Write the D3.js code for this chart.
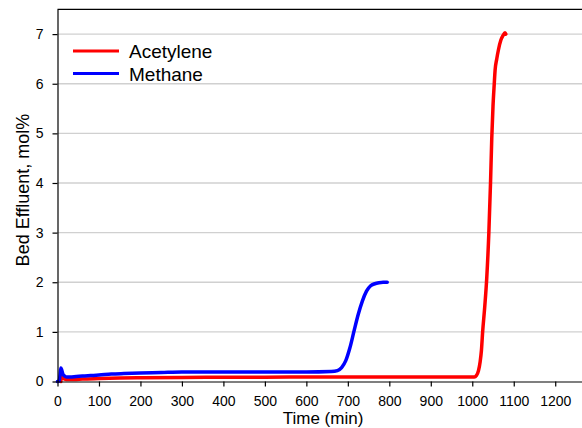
<!DOCTYPE html>
<html>
<head>
<meta charset="utf-8">
<script src="https://cdn.jsdelivr.net/npm/d3@7"></script>
<style>
  body { margin: 0; background: #fff; }
  svg { display: block; font-family: "Liberation Sans", Arial, sans-serif; }
</style>
</head>
<body>
<svg id="chart" width="582" height="428"></svg>
<script>
// Axis ticks
const xTicks = [0, 100, 200, 300, 400, 500, 600, 700, 800, 900, 1000, 1100, 1200];
const yTicks = [0, 1, 2, 3, 4, 5, 6, 7];

// Series names (legend order)
const seriesNames = ["Acetylene", "Methane"];

// Acetylene breakthrough: time (min) and bed effluent (mol%)
const acetyleneTime = [8, 10, 13, 17, 25, 40, 60, 100, 150, 200, 300, 400, 500, 600, 700, 800, 900, 1000,
  1005, 1010, 1015, 1019, 1022, 1025, 1030, 1035, 1040, 1044, 1047, 1050, 1053, 1055, 1059, 1063, 1069, 1074, 1079, 1081];
const acetyleneMol = [0.0, 0.12, 0.08, 0.05, 0.04, 0.04, 0.05, 0.06, 0.07, 0.075, 0.08, 0.085, 0.085, 0.09, 0.09, 0.09, 0.09, 0.09,
  0.09, 0.12, 0.22, 0.4, 0.62, 1.0, 1.5, 2.1, 3.0, 4.0, 4.9, 5.55, 6.0, 6.27, 6.5, 6.68, 6.88, 6.97, 7.03, 7.0];

// Methane breakthrough: time (min) and bed effluent (mol%)
const methaneTime = [0, 4, 6, 8, 10, 13, 17, 22, 30, 45, 60, 80, 100, 130, 160, 200, 250, 300, 400, 500, 600,
  660, 675, 685, 695, 705, 715, 725, 735, 745, 755, 765, 775, 785, 795];
const methaneMol = [0.0, 0.01, 0.12, 0.27, 0.24, 0.15, 0.11, 0.09, 0.09, 0.10, 0.11, 0.12, 0.13, 0.15, 0.16, 0.17, 0.18, 0.19, 0.19, 0.19, 0.19,
  0.2, 0.22, 0.28, 0.42, 0.68, 1.02, 1.35, 1.62, 1.82, 1.93, 1.97, 1.99, 2.0, 2.0];

const colors = { Acetylene: "#ff0000", Methane: "#0000ff" };

const svg = d3.select("#chart");

const x = d3.scaleLinear().domain([0, 1300]).range([57.5, 596.7]);
const y = d3.scaleLinear().domain([0, 7.5]).range([381.5, 9.3]);

// Horizontal gridlines
svg.append("g")
  .selectAll("line")
  .data(yTicks.filter(d => d > 0))
  .join("line")
  .attr("x1", x(0)).attr("x2", 600)
  .attr("y1", d => y(d)).attr("y2", d => y(d))
  .attr("stroke", "#d0d0d0")
  .attr("stroke-width", 1.4);

// Top frame line
svg.append("line")
  .attr("x1", x(0)).attr("x2", 600)
  .attr("y1", y(7.5)).attr("y2", y(7.5))
  .attr("stroke", "#000").attr("stroke-width", 1.2);

// Series lines
const line = d3.line()
  .x(d => x(d[0]))
  .y(d => y(d[1]))
  .curve(d3.curveMonotoneX);

const series = [
  { name: "Acetylene", pts: d3.zip(acetyleneTime, acetyleneMol) },
  { name: "Methane", pts: d3.zip(methaneTime, methaneMol) }
];

svg.append("g")
  .selectAll("path")
  .data(series)
  .join("path")
  .attr("d", d => line(d.pts))
  .attr("fill", "none")
  .attr("stroke", d => colors[d.name])
  .attr("stroke-width", 3.5)
  .attr("stroke-linejoin", "round")
  .attr("stroke-linecap", "round");

// Axes
const xAxis = svg.append("g")
  .attr("transform", `translate(0,${y(0)})`)
  .call(d3.axisBottom(x).tickValues(xTicks).tickSize(5).tickSizeOuter(0).tickPadding(10).tickFormat(d3.format("d")));

const yAxis = svg.append("g")
  .attr("transform", `translate(${x(0)},0)`)
  .call(d3.axisLeft(y).tickValues(yTicks).tickSize(5).tickSizeOuter(0).tickPadding(9).tickFormat(d3.format("d")));

[xAxis, yAxis].forEach(g => {
  g.select(".domain").attr("stroke", "#000").attr("stroke-width", 1.2);
  g.selectAll(".tick line").attr("stroke", "#000").attr("stroke-width", 1.2);
  g.selectAll(".tick text")
    .attr("fill", "#000")
    .style("font-size", "14px")
    .style("font-family", '"Liberation Sans", Arial, sans-serif');
});

// Axis titles
svg.append("text")
  .attr("x", 323).attr("y", 423.5)
  .attr("text-anchor", "middle")
  .style("font-size", "17px")
  .text("Time (min)");

svg.append("text")
  .attr("transform", "translate(29,190) rotate(-90)")
  .attr("text-anchor", "middle")
  .style("font-size", "18px")
  .text("Bed Effluent, mol%");

// Legend
const legend = svg.append("g")
  .selectAll("g")
  .data(seriesNames)
  .join("g")
  .attr("transform", (d, i) => `translate(0,${51 + i * 22.5})`);

legend.append("line")
  .attr("x1", 73).attr("x2", 119)
  .attr("y1", 0).attr("y2", 0)
  .attr("stroke", d => colors[d])
  .attr("stroke-width", 3);

legend.append("text")
  .attr("x", 129).attr("y", 7)
  .style("font-size", "19px")
  .text(d => d);
</script>
</body>
</html>
